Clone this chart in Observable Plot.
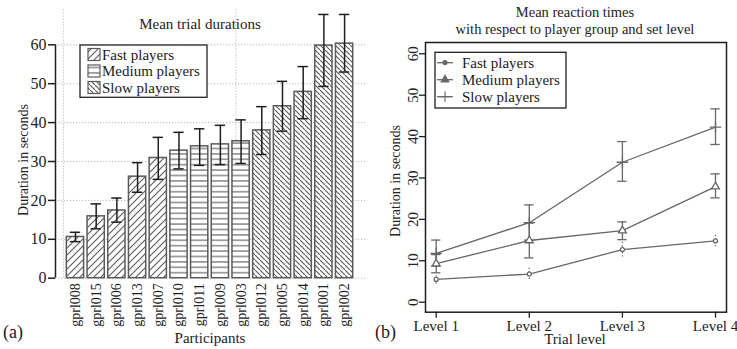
<!DOCTYPE html>
<html><head><meta charset="utf-8">
<script src="https://cdn.jsdelivr.net/npm/d3@7"></script>
<script src="https://cdn.jsdelivr.net/npm/@observablehq/plot@0.6"></script>
<style>
body{margin:0;background:#fff}
#wrap{position:relative;width:737px;height:349px;font-family:"Liberation Serif","Times New Roman",serif;color:#222}
#wrap svg{position:absolute;top:0;overflow:visible}
</style>
</head><body><div id="wrap"></div>
<script>
// ---------- Panel (a) data ----------
const participants = ["gprl008","gprl015","gprl006","gprl013","gprl007","gprl010","gprl011","gprl009","gprl003","gprl012","gprl005","gprl014","gprl001","gprl002"];
const playerGroup = ["Fast","Fast","Fast","Fast","Fast","Medium","Medium","Medium","Medium","Slow","Slow","Slow","Slow","Slow"];
const meanDuration = [10.6,15.9,17.4,26.1,30.9,32.8,33.9,34.4,35.2,38.0,44.2,47.9,59.8,60.3];
const lowDuration  = [9.4,12.7,14.4,22.1,25.4,28.1,29.0,29.2,29.5,31.8,37.8,41.0,49.3,53.0];
const highDuration = [11.8,19.1,20.6,29.7,36.2,37.5,38.4,39.3,40.7,44.1,50.6,54.4,67.8,67.8];
const yTicksA = [0,10,20,30,40,50,60];
const gridXA = [0,10];

// ---------- Panel (b) data ----------
const levels = [1,2,3,4];
const levelLabels = ["Level 1","Level 2","Level 3","Level 4"];
const fastMean = [5.5,6.8,12.7,14.8];
const fastLow  = [4.4,5.5,10.9,13.4];
const fastHigh = [6.6,8.2,14.5,16.1];
const mediumMean = [9.3,14.9,17.3,27.9];
const mediumLow  = [7.1,10.7,15.1,25.2];
const mediumHigh = [11.5,19.1,19.4,31.0];
const slowMean = [11.8,19.2,33.8,42.3];
const slowLow  = [8.7,15.0,29.2,38.1];
const slowHigh = [15.0,23.5,38.8,46.7];
const yTicksB = [0,10,20,30,40,50,60];

const serif = "Liberation Serif";
const wrap = document.getElementById("wrap");

// hatch patterns
const defs = d3.select(wrap).append("svg").attr("width",0).attr("height",0).style("position","absolute").append("defs");
function pat(id,w,h,d){
  const p = defs.append("pattern").attr("id",id).attr("patternUnits","userSpaceOnUse").attr("width",w).attr("height",h);
  p.append("rect").attr("width",w).attr("height",h).attr("fill","white");
  p.append("path").attr("d",d).attr("stroke","#5a5a5a").attr("stroke-width",1.1).attr("fill","none");
}
pat("hatchFast",7,7,"M-1,1L1,-1M0,7L7,0M6,8L8,6");
pat("hatchMedium",6,5.4,"M0,2.7H6");
pat("hatchSlow",5,5,"M-1,-1L1,1M0,0L5,5M4,4L6,6");

function addText(sel, x, y, str, size, anchor, rotate){
  const t = sel.append("text").attr("font-size",size).attr("fill","#222").attr("text-anchor",anchor||"start").attr("font-family",serif).text(str);
  if (rotate) t.attr("transform",`translate(${x},${y}) rotate(${rotate})`);
  else t.attr("x",x).attr("y",y);
  return t;
}

// ---------- Panel (a) ----------
const barData = participants.map((name,i)=>({name, group:playerGroup[i], pos:0.7+1.2*i, mean:meanDuration[i], lo:lowDuration[i], hi:highDuration[i]}));
const posName = new Map(barData.map(d=>[d.pos,d.name]));
const xDomA = [-0.458, 17.57];
const fills = {Fast:"url(#hatchFast)",Medium:"url(#hatchMedium)",Slow:"url(#hatchSlow)"};
const grid = {stroke:"#b8b8b8", strokeDasharray:"1.2,1.8", strokeWidth:1};

const svgA = Plot.plot({
  width:370, height:349,
  marginLeft:55, marginRight:4, marginTop:44.3, marginBottom:71.3,
  style:{fontFamily:serif, color:"#222", background:"transparent", overflow:"visible"},
  x:{type:"linear", domain:xDomA, axis:null},
  y:{domain:[0,60], axis:null},
  marks:[
    Plot.ruleY(yTicksA, grid),
    Plot.ruleX(gridXA, {...grid, y1:0, y2:69}),
    ...["Fast","Medium","Slow"].map(g=>Plot.rect(barData.filter(d=>d.group===g), {x1:d=>d.pos-0.5, x2:d=>d.pos+0.5, y1:0, y2:"mean", fill:fills[g], stroke:"#5a5a5a", strokeWidth:1.5})),
    Plot.ruleX(barData, {x:"pos", y1:"lo", y2:"hi", stroke:"#1e1e1e", strokeWidth:1.5}),
    Plot.ruleY(barData, {y:"hi", x1:d=>d.pos-0.3, x2:d=>d.pos+0.3, stroke:"#1e1e1e", strokeWidth:1.5}),
    Plot.ruleY(barData, {y:"lo", x1:d=>d.pos-0.3, x2:d=>d.pos+0.3, stroke:"#1e1e1e", strokeWidth:1.5}),
    Plot.ruleX([xDomA[0]], {y1:0, y2:60, stroke:"#1e1e1e", strokeWidth:1.5}),
    Plot.axisY(yTicksA, {tickSize:7, tickPadding:2, fontSize:16, label:null, stroke:"#1e1e1e", strokeWidth:1.5}),
    Plot.axisX(barData.map(d=>d.pos), {tickFormat:d=>posName.get(d), tickRotate:-90, tickSize:0, tickPadding:5, fontSize:14, label:null})
  ]
});
svgA.style.left = "0px";
wrap.appendChild(svgA);
const sa = d3.select(svgA);
addText(sa, 200, 29, "Mean trial durations", 15, "middle");
addText(sa, 28, 160, "Duration in seconds", 14, "middle", -90);
addText(sa, 210, 343, "Participants", 15, "middle");
addText(sa, 3, 338, "(a)", 18, "start");
// legend (a)
const legA = sa.append("g");
legA.append("rect").attr("x",80).attr("y",45).attr("width",127).attr("height",52.3).attr("fill","white").attr("stroke","#222").attr("stroke-width",1.3);
["Fast","Medium","Slow"].forEach((g,i)=>{
  const cy = 54.5 + i*16.5;
  legA.append("rect").attr("x",88).attr("y",cy-6).attr("width",12).attr("height",12).attr("fill",fills[g]).attr("stroke","#5a5a5a").attr("stroke-width",1.2);
  addText(legA, 102, cy+5, g+" players", 15, "start");
});

// ---------- Panel (b) ----------
const mk = (g,m,l,h)=>levels.map((lv,i)=>({group:g, level:lv, mean:m[i], lo:l[i], hi:h[i]}));
const fastData = mk("Fast",fastMean,fastLow,fastHigh);
const mediumData = mk("Medium",mediumMean,mediumLow,mediumHigh);
const slowData = mk("Slow",slowMean,slowLow,slowHigh);
const allB = [...fastData,...mediumData,...slowData];
const lineC = "#676767";
const errMarks = (data, dash)=>[
  Plot.ruleX(data, {x:"level", y1:"lo", y2:"hi", stroke:lineC, strokeWidth:1.3, strokeDasharray:dash}),
  Plot.ruleY(data, {y:"hi", x1:d=>d.level-0.05, x2:d=>d.level+0.05, stroke:lineC, strokeWidth:1.3}),
  Plot.ruleY(data, {y:"lo", x1:d=>d.level-0.05, x2:d=>d.level+0.05, stroke:lineC, strokeWidth:1.3})
];

const svgB = Plot.plot({
  width:367, height:349,
  marginLeft:55, marginRight:11, marginTop:42, marginBottom:37.3,
  style:{fontFamily:serif, color:"#222", background:"transparent", overflow:"visible"},
  x:{type:"linear", domain:[0.885,4.118], axis:null},
  y:{domain:[-2.42,62.73], axis:null},
  marks:[
    Plot.line(allB, {x:"level", y:"mean", z:"group", stroke:lineC, strokeWidth:1.3}),
    ...errMarks(slowData, null),
    ...errMarks(mediumData, null),
    Plot.ruleX(fastData, {x:"level", y1:"lo", y2:"hi", stroke:lineC, strokeWidth:1.3, strokeDasharray:"1.3,2"}),
    Plot.dot(fastData, {x:"level", y:"mean", symbol:"circle", r:2, stroke:lineC, fill:"white", strokeWidth:1.3}),
    Plot.dot(mediumData, {x:"level", y:"mean", symbol:"triangle", r:2.9, stroke:lineC, fill:"white", strokeWidth:1.3}),
    Plot.dot(slowData, {x:"level", y:"mean", symbol:"plus", r:3.8, stroke:lineC, strokeWidth:1.3}),
    Plot.frame({stroke:"#1e1e1e", strokeWidth:1.5}),
    Plot.axisY(yTicksB, {tickSize:6, tickPadding:2, tickRotate:-90, fontSize:15, label:null, stroke:"#1e1e1e", strokeWidth:1.3}),
    Plot.axisX(levels, {tickFormat:d=>levelLabels[d-1], tickSize:6, tickPadding:2, fontSize:15, label:null, stroke:"#1e1e1e", strokeWidth:1.3})
  ]
});
svgB.style.left = "370px";
wrap.appendChild(svgB);
const sb = d3.select(svgB);
addText(sb, 205, 17, "Mean reaction times", 14.5, "middle");
addText(sb, 205, 34, "with respect to player group and set level", 14.5, "middle");
addText(sb, 30, 181, "Duration in seconds", 14, "middle", -90);
addText(sb, 205, 344, "Trial level", 15, "middle");
addText(sb, 5, 338, "(b)", 18, "start");
// legend (b)
const legB = sb.append("g");
legB.append("rect").attr("x",65).attr("y",52.3).attr("width",131).attr("height",55.7).attr("fill","white").attr("stroke","#1e1e1e").attr("stroke-width",1.3);
const sym = {Fast:d3.symbolCircle, Medium:d3.symbolTriangle, Slow:d3.symbolPlus};
const symSize = {Fast:14, Medium:26, Slow:40};
["Fast","Medium","Slow"].forEach((g,i)=>{
  const cy = 62.7 + i*17;
  legB.append("line").attr("x1",67).attr("x2",83).attr("y1",cy).attr("y2",cy).attr("stroke",lineC).attr("stroke-width",1.3);
  legB.append("path").attr("transform",`translate(75,${cy})`).attr("d",d3.symbol(sym[g],symSize[g])()).attr("fill",g==="Slow"?"none":lineC).attr("stroke",lineC).attr("stroke-width",1.1);
  addText(legB, 92, cy+5, g+" players", 15, "start");
});
</script>
</body></html>
